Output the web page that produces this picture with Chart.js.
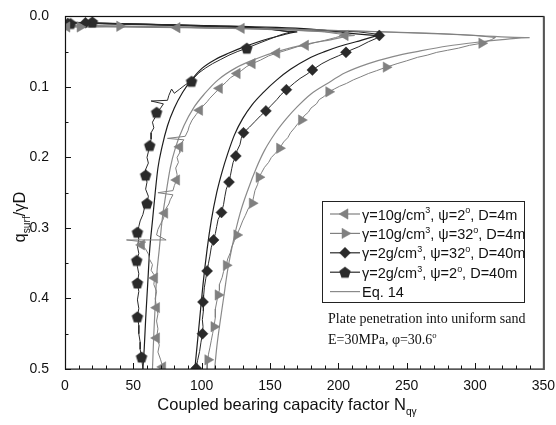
<!DOCTYPE html>
<html>
<head>
<meta charset="utf-8">
<script src="https://cdn.jsdelivr.net/npm/chart.js@4.4.0/dist/chart.umd.min.js"></script>
<style>
  html, body { margin: 0; padding: 0; background: #fff; }
  #wrap { width: 556px; height: 425px; }
</style>
</head>
<body>
<div id="wrap"><canvas id="chart" width="556" height="425"></canvas></div>
<script>
// --- data: [N_qγ, q_surf/γD] ---
// γ=10g/cm3, ψ=2°, D=4m (grey, left triangles)
const s1Line = [
  [0,0.015],[30,0.015],[80,0.016],[130,0.017],[165,0.019],[190,0.022],[205,0.026],
  [198,0.03],[190,0.034],[183,0.037],[176,0.041],[170,0.043],[162,0.048],[155,0.052],[149,0.056],
  [143,0.062],[137,0.067],[133,0.071],[129,0.077],[126,0.081],[121,0.087],[118,0.093],[114,0.1],
  [112,0.104],[109,0.11],[106,0.116],[104,0.121],[101,0.127],[99,0.131],[98.5,0.133],[96,0.139],
  [93,0.147],[91,0.155],[90,0.162],[88,0.17],[75,0.173],[87,0.175],[85,0.18],[84,0.185],[84,0.193],
  [82,0.2],[83,0.207],[81,0.215],[82,0.224],[81.7,0.232],[80,0.24],[79,0.247],[68,0.25],[79,0.253],
  [77,0.26],[76,0.266],[74,0.272],[73,0.279],[72,0.287],[70,0.294],[68,0.302],[67,0.31],[74,0.317],
  [45,0.317],[59,0.32],[56,0.324],[59,0.33],[61,0.337],[62,0.345],[64,0.352],[63,0.36],[65,0.366],
  [65.6,0.371],[65,0.38],[67,0.39],[66,0.4],[67,0.413],[68,0.422],[67,0.432],[68,0.443],[67,0.456],
  [69,0.466],[68,0.476],[70,0.487],[71.5,0.497],[73,0.5]
];
const s1Marks = [
  [1.4,0.015],[82,0.016],[129,0.017],[205,0.027],[176,0.041],[155,0.052],[137,0.067],[126,0.081],
  [113,0.102],[98.5,0.133],[84,0.185],[81.7,0.232],[73,0.279],[56,0.324],[65.6,0.371],[67,0.413],
  [67,0.456],[71.5,0.497]
];

// γ=10g/cm3, ψ=32°, D=4m (grey, right triangles)
const s2Line = [
  [0,0.014],[11,0.015],[40,0.014],[100,0.016],[160,0.018],[220,0.021],[270,0.024],[300,0.027],
  [315,0.03],[312,0.033],[305,0.038],[296,0.041],[288,0.045],[280,0.048],[272,0.051],[265,0.055],
  [258,0.058],[250,0.063],[243,0.067],[235,0.072],[228,0.077],[222,0.081],[216,0.086],[211,0.09],
  [206,0.095],[201,0.099],[197,0.103],[193,0.107],[190,0.113],[186,0.118],[184,0.124],[180,0.13],
  [178,0.136],[175,0.141],[173,0.147],[170,0.153],[168,0.158],[165,0.165],[163,0.172],[160,0.178],
  [157,0.187],[154,0.194],[151,0.2],[149,0.207],[146,0.214],[144,0.221],[142,0.228],[141,0.238],
  [139,0.247],[138,0.256],[137,0.265],[134,0.273],[132,0.282],[130,0.29],[128,0.3],[125.7,0.31],
  [124,0.318],[122,0.327],[121,0.335],[119,0.344],[118,0.353],[116,0.362],[115,0.37],[113,0.38],
  [113,0.388],[112,0.395],[111,0.405],[110,0.415],[110,0.427],[109,0.44],[108,0.45],[107,0.46],
  [106,0.47],[105,0.479],[104.5,0.487],[104,0.5]
];
const s2Marks = [
  [11,0.015],[40,0.014],[305,0.038],[235,0.072],[193,0.107],[173,0.147],[157,0.187],[142,0.228],
  [137,0.265],[125.7,0.31],[118,0.353],[112,0.395],[109,0.44],[104.5,0.487]
];

// γ=2g/cm3, ψ=32°, D=40m (black diamonds)
const s3Line = [
  [0,0.009],[15,0.01],[60,0.012],[120,0.015],[180,0.019],[215,0.022],[232,0.026],[228,0.031],
  [222,0.036],[215,0.043],[210,0.047],[205.6,0.051],[200,0.056],[194,0.061],[188,0.067],[181,0.076],
  [177,0.082],[172,0.088],[168,0.094],[165,0.099],[162,0.104],[158,0.111],[155,0.118],[151,0.126],
  [147,0.134],[143,0.141],[139,0.149],[135,0.157],[130.6,0.165],[129,0.173],[128,0.182],[126,0.19],
  [125,0.198],[123,0.207],[122,0.216],[121,0.226],[120,0.235],[118,0.245],[117,0.255],[116,0.267],
  [114.5,0.278],[112,0.288],[111,0.298],[110,0.308],[108.7,0.317],[107,0.328],[106,0.34],[105,0.35],
  [104,0.361],[103,0.372],[102,0.384],[101.5,0.395],[101,0.405],[101.5,0.418],[100.5,0.43],[101,0.44],
  [100.6,0.45],[99.5,0.462],[98.5,0.475],[97,0.488],[96,0.499],[95.5,0.5]
];
const s3Marks = [
  [2,0.01],[15,0.009],[230,0.027],[205.6,0.051],[181,0.076],[162,0.104],[147,0.134],[130.6,0.165],
  [125,0.198],[120,0.235],[114.5,0.278],[108.7,0.317],[104,0.361],[101,0.405],[100.6,0.45],[96,0.499]
];

// γ=2g/cm3, ψ=2°, D=40m (black pentagons)
const s4Line = [
  [0,0.008],[20,0.009],[60,0.011],[110,0.014],[150,0.018],[165,0.022],[158,0.026],[150,0.032],
  [142,0.038],[133,0.045],[126,0.05],[120,0.055],[114,0.061],[108,0.067],[103,0.073],[98,0.08],
  [95,0.086],[92.6,0.092],[88,0.097],[84,0.103],[80,0.109],[78,0.103],[76,0.112],[75,0.119],
  [63,0.12],[72,0.124],[70,0.13],[67,0.136],[66,0.143],[64,0.15],[65,0.158],[63,0.165],[63,0.174],
  [62,0.183],[61,0.192],[60,0.2],[61,0.208],[59,0.217],[59,0.225],[60,0.235],[59,0.245],[61,0.255],
  [60,0.265],[58,0.273],[57,0.281],[55,0.29],[54,0.298],[53,0.306],[54,0.316],[53,0.326],[54,0.336],
  [52.5,0.346],[53,0.355],[54,0.365],[53,0.378],[54,0.39],[53,0.402],[54,0.414],[53,0.426],
  [54,0.438],[54,0.45],[55,0.462],[55,0.472],[56,0.483],[57,0.5]
];
const s4Marks = [
  [4,0.01],[20,0.008],[133,0.045],[92.6,0.092],[67,0.136],[62,0.183],[59,0.225],[60,0.265],
  [53,0.306],[52.5,0.346],[53,0.378],[53,0.426],[56,0.483]
];

// Eq. 14 curves, one per case
const eq1 = [
  [0,0.012],[100,0.016],[170,0.02],[200,0.023],[212,0.027],[195,0.033],[175,0.04],[155,0.05],
  [140,0.06],[125,0.073],[112,0.09],[102,0.11],[94,0.13],[87,0.155],[81,0.185],[77,0.215],
  [74,0.25],[71,0.29],[69,0.33],[67,0.37],[66,0.41],[65,0.45],[64,0.5]
];
const eq2 = [
  [0,0.013],[100,0.016],[200,0.02],[280,0.025],[340,0.03],[320,0.033],[300,0.037],[280,0.042],
  [260,0.049],[240,0.057],[222,0.067],[205,0.08],[192,0.095],[180,0.11],[170,0.128],[162,0.145],
  [154,0.165],[146,0.19],[140,0.215],[134,0.245],[128,0.28],[123,0.32],[119,0.36],[116,0.4],
  [113,0.44],[111,0.47],[109.5,0.5]
];
const eq3 = [
  [0,0.009],[100,0.013],[180,0.018],[232,0.027],[215,0.035],[200,0.043],[190,0.05],[178,0.06],
  [165,0.075],[155,0.09],[145,0.108],[137,0.125],[130,0.145],[124,0.168],[119,0.195],[115,0.22],
  [111,0.25],[107,0.29],[104,0.33],[101,0.38],[98.5,0.43],[96.5,0.47],[95,0.5]
];
const eq4 = [
  [0,0.009],[80,0.012],[140,0.016],[170,0.022],[160,0.026],[150,0.031],[140,0.037],[130,0.044],
  [120,0.052],[110,0.061],[100,0.074],[93,0.089],[86,0.108],[80,0.13],[75,0.155],[71,0.185],
  [68,0.215],[66,0.25],[64,0.29],[62,0.33],[60.5,0.38],[59,0.43],[58,0.47],[57,0.5]
];

const legendLabels = [
  "γ=10g/cm^{3}, ψ=2^{o}, D=4m",
  "γ=10g/cm^{3}, ψ=32^{o}, D=4m",
  "γ=2g/cm^{3}, ψ=32^{o}, D=40m",
  "γ=2g/cm^{3}, ψ=2^{o}, D=40m",
  "Eq. 14"
];
const noteLines = ["Plate penetration into uniform sand", "E=30MPa, φ=30.6^{o}"];
const xTitle = "Coupled bearing capacity factor N_{qγ}";
const yTitle = "q_{surf}/γD";
const xRange = [0, 350], yRange = [0, 0.5];

// --- styles ---
const SANS = "'Liberation Sans', Arial, sans-serif";
const SERIF = "'Liberation Serif', 'Times New Roman', serif";
const GREY = "#808080", DARK = "#2a2a2a";

function pentagon(r, color) {
  const s = Math.ceil(2 * r + 2);
  const c = document.createElement("canvas");
  c.width = c.height = s;
  const g = c.getContext("2d");
  g.fillStyle = color;
  g.beginPath();
  for (let i = 0; i < 5; i++) {
    const a = -Math.PI / 2 + i * 2 * Math.PI / 5;
    g.lineTo(s / 2 + r * Math.cos(a), s / 2 + 0.6 + r * Math.sin(a));
  }
  g.closePath();
  g.fill();
  return c;
}

const markerStyles = [
  { pointStyle: "triangle", radius: 6, rotation: -90, color: GREY },
  { pointStyle: "triangle", radius: 6, rotation: 90, color: GREY },
  { pointStyle: "rectRot", radius: 5.5, rotation: 0, color: DARK },
  { pointStyle: pentagon(6, DARK), radius: 6, rotation: 0, color: DARK }
];
const lineColors = [GREY, GREY, DARK, DARK];

const toXY = arr => arr.map(([x, y]) => ({ x, y }));

const datasets = [];
[s1Marks, s2Marks, s3Marks, s4Marks].forEach((m, i) => {
  const st = markerStyles[i];
  datasets.push({
    data: toXY(m), showLine: false, order: 0,
    pointStyle: st.pointStyle, pointRadius: st.radius, pointRotation: st.rotation,
    pointBackgroundColor: st.color, pointBorderColor: st.color, pointBorderWidth: 0.5
  });
});
[s1Line, s2Line, s3Line, s4Line].forEach((l, i) => {
  datasets.push({
    data: toXY(l), showLine: true, order: 1, pointRadius: 0,
    borderColor: lineColors[i], borderWidth: 1, tension: 0
  });
});
[eq1, eq2, eq3, eq4].forEach((l, i) => {
  datasets.push({
    data: toXY(l), showLine: true, order: 2, pointRadius: 0,
    borderColor: i < 2 ? "#8a8a8a" : "#1e1e1e", borderWidth: 1.2, tension: 0.35,
    cubicInterpolationMode: "monotone"
  });
});

// --- rich text with ^{sup} and _{sub} ---
function parseRich(str) {
  const parts = [];
  const re = /(\^|_)\{([^}]*)\}/g;
  let last = 0, m;
  while ((m = re.exec(str))) {
    if (m.index > last) parts.push([str.slice(last, m.index), 0]);
    parts.push([m[2], m[1] === "^" ? 1 : -1]);
    last = re.lastIndex;
  }
  if (last < str.length) parts.push([str.slice(last), 0]);
  return parts;
}
function richWidth(ctx, str, size, family) {
  let w = 0;
  parseRich(str).forEach(([t, mode]) => {
    ctx.font = (mode ? size * 0.62 : size) + "px " + family;
    w += ctx.measureText(t).width;
  });
  return w;
}
function drawRich(ctx, str, x, y, size, family) {
  parseRich(str).forEach(([t, mode]) => {
    const s = mode ? size * 0.62 : size;
    ctx.font = s + "px " + family;
    const dy = mode === 1 ? -size * 0.42 : mode === -1 ? size * 0.3 : 0;
    ctx.fillText(t, x, y + dy);
    x += ctx.measureText(t).width;
  });
  return x;
}

const decor = {
  id: "decor",
  afterDraw(chart) {
    const { ctx, chartArea: a, scales: { x, y } } = chart;
    ctx.save();
    ctx.strokeStyle = "#111";
    ctx.lineWidth = 1;
    ctx.beginPath();
    // inward ticks
    for (let v = xRange[0]; v <= xRange[1]; v += 10) {
      const px = Math.round(x.getPixelForValue(v)) + 0.5;
      const len = v % 50 === 0 ? 6 : 3.5;
      ctx.moveTo(px, a.bottom); ctx.lineTo(px, a.bottom - len);
    }
    for (let i = 0; i <= 10; i++) {
      const py = Math.round(y.getPixelForValue(i * 0.05)) + 0.5;
      const len = i % 2 === 0 ? 6 : 3.5;
      ctx.moveTo(a.left, py); ctx.lineTo(a.left + len, py);
    }
    ctx.stroke();
    // frame
    ctx.lineWidth = 1.2;
    ctx.strokeRect(Math.round(a.left) + 0.5, Math.round(a.top) + 0.5, a.right - a.left, a.bottom - a.top);
    ctx.strokeStyle = "#555";
    ctx.lineWidth = 2;
    ctx.beginPath();
    ctx.moveTo(a.right + 0.5, a.top); ctx.lineTo(a.right + 0.5, a.bottom + 1);
    ctx.stroke();

    // axis titles
    ctx.fillStyle = "#111";
    ctx.textBaseline = "alphabetic";
    ctx.textAlign = "left";
    const xw = richWidth(ctx, xTitle, 16.5, SANS);
    drawRich(ctx, xTitle, 287 - xw / 2, 410, 16.5, SANS);
    ctx.save();
    ctx.translate(25, 217);
    ctx.rotate(-Math.PI / 2);
    const yw = richWidth(ctx, yTitle, 16.5, SANS);
    drawRich(ctx, yTitle, -yw / 2, 0, 16.5, SANS);
    ctx.restore();

    // legend box
    const bx = 322, by = 201, bw = 202, bh = 101;
    ctx.fillStyle = "#fff";
    ctx.fillRect(bx, by, bw, bh);
    ctx.strokeStyle = "#222";
    ctx.lineWidth = 1;
    ctx.strokeRect(bx + 0.5, by + 0.5, bw, bh);
    legendLabels.forEach((lab, i) => {
      const yc = 214 + i * 19.4;
      const col = i < 4 ? lineColors[i] : "#8a8a8a";
      ctx.strokeStyle = col;
      ctx.lineWidth = 1.2;
      ctx.beginPath();
      ctx.moveTo(330, yc); ctx.lineTo(360, yc);
      ctx.stroke();
      if (i < 4) {
        const st = markerStyles[i];
        ctx.fillStyle = st.color;
        ctx.strokeStyle = st.color;
        ctx.lineWidth = 0.5;
        Chart.helpers.drawPoint(ctx, {
          pointStyle: st.pointStyle, radius: st.radius, rotation: st.rotation, borderWidth: 0.5
        }, 345, yc);
      }
      ctx.fillStyle = "#111";
      drawRich(ctx, lab, 362, yc + 5.5, 14.5, SANS);
    });

    // note
    ctx.fillStyle = "#111";
    noteLines.forEach((t, i) => drawRich(ctx, t, 328, 323 + i * 20.5, 14, SERIF));
    ctx.restore();
  }
};

new Chart(document.getElementById("chart"), {
  type: "scatter",
  data: { datasets },
  options: {
    responsive: false,
    animation: false,
    layout: { padding: { top: 16, right: 11, left: 0, bottom: 0 } },
    plugins: { legend: { display: false }, tooltip: { enabled: false } },
    scales: {
      x: {
        type: "linear", min: xRange[0], max: xRange[1],
        grid: { display: false }, border: { display: false },
        ticks: { stepSize: 50, autoSkip: false, maxRotation: 0, padding: 1,
                 color: "#111", font: { family: SANS, size: 14 } },
        afterFit: s => { s.height = 56; }
      },
      y: {
        type: "linear", min: yRange[0], max: yRange[1], reverse: true,
        grid: { display: false }, border: { display: false },
        ticks: { stepSize: 0.1, autoSkip: false, padding: 8, color: "#111",
                 font: { family: SANS, size: 14 }, callback: v => v.toFixed(1) },
        afterFit: s => { s.width = 65; }
      }
    }
  },
  plugins: [decor]
});
</script>
</body>
</html>
